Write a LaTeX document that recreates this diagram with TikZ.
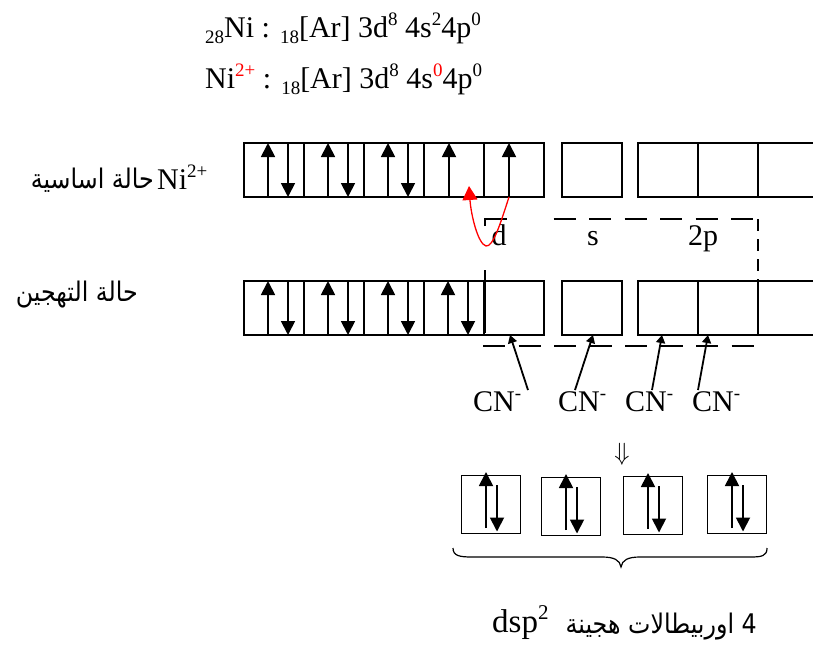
\documentclass[tikz,border=0pt]{standalone}
\usepackage{fontspec}
\setmainfont{Liberation Serif}
\newfontfamily\arabicfont[Script=Arabic]{DejaVu Sans}
\TeXXeTstate=1
\usetikzlibrary{arrows.meta,calc}
\newcommand\mysub[1]{\raisebox{-6pt}{\fontsize{19}{19}\selectfont #1}}
\newcommand\mysup[1]{\raisebox{12pt}{\fontsize{19}{19}\selectfont #1}}
\newcommand\artext[1]{\scalebox{0.88}[1]{\arabicfont\fontsize{27}{30}\selectfont\beginR #1\endR}}
\begin{document}
\begin{tikzpicture}[x=1pt,y=-1pt,
 orb/.style={draw, line width=1.6pt, minimum width=60pt, minimum height=54pt, inner sep=0pt, outer sep=0pt},
 hyb/.style={draw, line width=1.6pt, minimum width=59pt, minimum height=58pt, inner sep=0pt, outer sep=0pt},
 spin/.style={line width=1.8pt, -{Triangle[length=14pt,width=14pt]}},
 txt/.style={inner sep=0pt, font=\fontsize{30}{36}\selectfont},
 ar/.style={inner sep=0pt},
 dashbox/.style={line width=1.6pt, dash pattern=on 22pt off 13.5pt},
 lig/.style={line width=1.8pt, -{Triangle[length=8pt,width=9pt]}},
]
\useasboundingbox (0,0) rectangle (813,646);
\clip (0,0) rectangle (813,646);
\fill[white] (0,0) rectangle (813,646);

% configurations
\node[txt, anchor=base west] (l1) at (205,37) {\mysub{28}Ni : \mysub{18}[Ar] 3d\mysup{8} 4s\mysup{2}4p\mysup{0}};
\node[txt, anchor=base west] (l2) at (205,88) {Ni\mysup{\textcolor{red}{2+}} : \mysub{18}[Ar] 3d\mysup{8} 4s\mysup{\textcolor{red}{0}}4p\mysup{0}};

% left labels
\node[txt, anchor=base west] (ni) at (157,189) {Ni\mysup{2+}};
\node[ar, anchor=base east] (gs) at (154,188) {\artext{حالة اساسية}};
\node[ar, anchor=base east] (lhyb) at (138,301) {\artext{حالة التهجين}};

% orbital rows
\foreach \i/\x in {1/274,2/334,3/394,4/454,5/514} {
  \node[orb] (t\i) at (\x,170) {};
  \node[orb] (h\i) at (\x,308) {};
}
\node[orb] (ts) at (592,170) {};
\node[orb] (hs) at (592,308) {};
\foreach \i/\x in {1/668,2/728,3/788} {
  \node[orb] (tp\i) at (\x,170) {};
  \node[orb] (hp\i) at (\x,308) {};
}

\foreach \n in {t1,t2,t3,h1,h2,h3,h4} {
  \draw[spin] ([xshift=-6pt]\n.south) -- ([xshift=-6pt]\n.north);
  \draw[spin] ([xshift=14pt]\n.north) -- ([xshift=14pt]\n.south);
}
\foreach \n in {t4,t5} \draw[spin] ([xshift=-5pt]\n.south) -- ([xshift=-5pt]\n.north);

% dashed box
\draw[line width=1.6pt] (485,226) -- (485,219) -- (507,219);
\draw[dashbox] (553.5,219) -- (758,219);
\draw[line width=1.6pt, dash pattern=on 12pt off 8pt] (758,219) -- (758,281);
\draw[dashbox] (483,346) -- (758,346);
\draw[line width=2.4pt] (485,270) -- (485,333);

% labels
\node[txt, anchor=base] (ld) at (499,245) {d};
\node[txt, anchor=base] (ls) at (593,245) {s};
\node[txt, anchor=base] (lp) at (703,245) {2p};

% red arrow
\coordinate (redtip) at (469,186);
\draw[red, line width=1.3pt, -{Triangle[length=14pt,width=15pt]}] ([xshift=-5pt]t5.south) .. controls (500,225) and (493,247) .. (486,246) .. controls (478,244) and (471,215) .. (redtip);

% ligands
\node[txt, anchor=base west] (cn1) at (473,411) {CN\mysup{-}};
\node[txt, anchor=base west] (cn2) at (558,411) {CN\mysup{-}};
\node[txt, anchor=base west] (cn3) at (625,411) {CN\mysup{-}};
\node[txt, anchor=base west] (cn4) at (692,411) {CN\mysup{-}};
\coordinate (s1) at (528,390);
\coordinate (s2) at (575,390);
\coordinate (s3) at (652,390);
\coordinate (s4) at (698,390);
\draw[lig] (s1) -- ([xshift=-4pt]h5.south);
\draw[lig] (s2) -- ([xshift=1pt]hs.south);
\draw[lig] (s3) -- ([xshift=-6pt]hp1.south);
\draw[lig] (s4) -- ([xshift=-20pt]hp2.south);

% down arrow
\node[inner sep=0pt, font=\fontsize{30}{36}\selectfont] (dn) at (622,454) {$\Downarrow$};

% hybrid orbitals
\foreach \i/\x/\y in {1/491/504.5, 2/571/506.5, 3/653/505.5, 4/737/504.5} {
  \node[hyb] (o\i) at (\x,\y) {};
  \draw[spin] ([xshift=-5pt,yshift=-23.5pt]o\i.center) -- ([xshift=-5pt,yshift=32.5pt]o\i.center);
  \draw[spin] ([xshift=6pt,yshift=19.5pt]o\i.center) -- ([xshift=6pt,yshift=-27pt]o\i.center);
}

% brace
\draw[line width=1.2pt] (453,548) .. controls (453,556) and (460,557) .. (472,557) -- (602,557) .. controls (614,557) and (620,560) .. (621,567) .. controls (622,560) and (628,557) .. (640,557) -- (750,557) .. controls (762,557) and (767,556) .. (767,548);

% bottom text
\node[inner sep=0pt, font=\fontsize{33}{38}\selectfont, anchor=base west] (dsp) at (492,632) {dsp\raisebox{13pt}{\fontsize{21}{21}\selectfont 2}};
\node[ar, anchor=base east] (hybtxt) at (757,633) {\artext{4 اوربيطالات هجينة}};
\end{tikzpicture}
\end{document}
